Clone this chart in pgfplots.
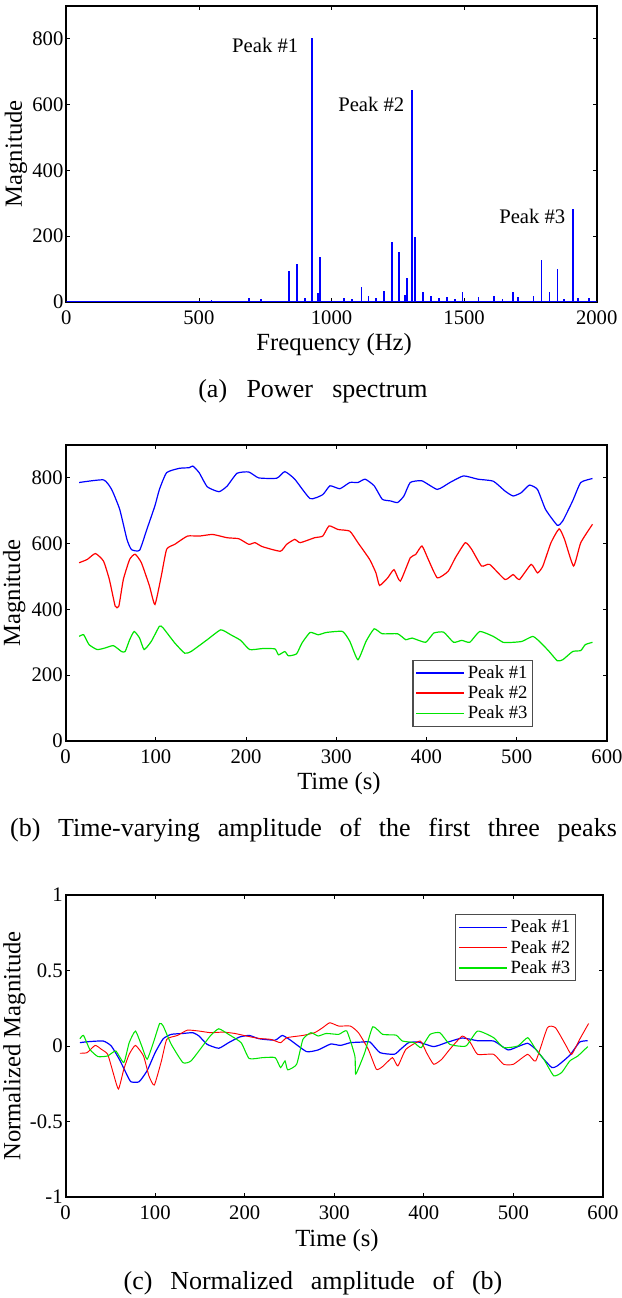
\documentclass[border=0pt]{standalone}
\usepackage{pgfplots}
\pgfplotsset{compat=1.18}
\usepackage{fontspec}
\setmainfont{Liberation Serif}
\definecolor{mblue}{rgb}{0,0,1}
\definecolor{mred}{rgb}{1,0,0}
\definecolor{mgreen}{rgb}{0,0.9,0}
\pgfplotsset{
  mstyle/.style={
    scale only axis,
    anchor=south west,
    axis line style={line width=1.4pt},
    tick align=inside,
    major tick length=3pt,
    tick style={black, line width=0.6pt},
    /pgf/number format/assume math mode=true,
    /pgf/number format/1000 sep={},
    tick label style={font=\fontsize{15.5}{16}\selectfont},
    yticklabel style={inner sep=2pt},
    xticklabel style={inner sep=3pt, yshift=-3.5pt},
    every axis y label/.style={at={(axis description cs:-0.095,0.5)}, rotate=90, anchor=center, font=\fontsize{18.5}{20}\selectfont},
    every axis x label/.style={at={(axis description cs:0.505,-0.145)}, anchor=center, font=\fontsize{18.5}{20}\selectfont},
    legend style={font=\fontsize{14}{15}\selectfont, draw=black!70, line width=0.8pt, inner sep=2pt},
    legend cell align=left,
  }
}
\begin{document}
\begin{tikzpicture}
\path[use as bounding box] (0pt,0pt) rectangle (465.75pt,973.5pt);

% ---------------- (a) ----------------
\begin{axis}[mstyle, at={(49.725pt,747.225pt)}, width=397.8pt, height=221.8pt,
  xmin=0, xmax=2000, ymin=0, ymax=900,
  xtick={0,500,1000,1500,2000}, ytick={0,200,400,600,800},
  xlabel={Frequency (Hz)}, ylabel={Magnitude}]
\addplot[draw=mblue, line width=1pt] coordinates {(0,0) (2000,0)};
\addplot[draw=mblue, ycomb, line width=1.3pt] coordinates {
(548,5) (690,12) (734,8) (839,94) (869,114) (899,12) (926,804) (950,25) (957,136)
(1047,10) (1077,8) (1113,46) (1139,17) (1167,12) (1197,32) (1227,182) (1254,150)
(1276,19) (1285,72) (1303,645) (1315,198) (1345,30) (1375,17) (1405,12) (1435,13)
(1465,8) (1494,30) (1554,15) (1613,17) (1645,8) (1684,30) (1703,15) (1762,18)
(1792,127) (1822,30) (1852,99) (1877,8) (1910,282) (1930,10) (1970,12)};
\node[font=\fontsize{15.5}{16}\selectfont] at (axis cs:750,779) {Peak \#1};
\node[font=\fontsize{15.5}{16}\selectfont] at (axis cs:1150,601) {Peak \#2};
\node[font=\fontsize{15.5}{16}\selectfont] at (axis cs:1757,259) {Peak \#3};
\end{axis}

% ---------------- (b) ----------------
\begin{axis}[mstyle, at={(49.2pt,417.75pt)}, width=406pt, height=222pt,
  xmin=0, xmax=600, ymin=0, ymax=900,
  xtick={0,100,...,600}, ytick={0,200,400,600,800},
  xlabel={Time (s)}, ylabel={Magnitude},
  legend image code/.code={\draw[#1, line width=1.1pt] (0pt,0pt) -- (36pt,0pt);},
  legend style={at={(0.864,0.048)}, anchor=south east}]
\addplot[draw=mblue, line width=0.9pt, smooth, tension=0.3] coordinates {
(15,786) (42,794) (51,765) (60,704) (68,613) (73,582) (82,580) (90,643) (99,715)
(104,765) (112,816) (126,829) (137,831) (141,836) (148,816) (157,773) (170,758)
(179,775) (190,814) (203,818) (214,800) (234,799) (243,819) (254,796) (271,737)
(285,749) (293,776) (304,767) (315,786) (324,786) (332,796) (342,776) (351,735)
(360,730) (368,725) (375,745) (382,786) (395,791) (412,765) (426,786) (441,806)
(457,796) (474,790) (487,760) (496,745) (505,755) (514,778) (523,765) (532,704)
(545,656) (551,669) (562,730) (571,786) (584,798)};
\addlegendentry{Peak \#1}
\addplot[draw=mred, line width=0.9pt, smooth, tension=0.3] coordinates {
(15,542) (24,552) (33,570) (42,547) (48.5,491) (55,410) (59,410) (64,491) (71,552)
(77,568) (84,542) (93,471) (99,415) (106,501) (112,583) (121,598) (135,623)
(148,623) (163,628) (179,618) (192,615) (203,598) (210,603) (218,591) (238,577)
(245,598) (254,613) (260,603) (276,618) (285,623) (292,654) (302,643) (315,638)
(324,603) (337,552) (344,511) (348,473) (357,496) (364,521) (371,486) (382,557)
(388,567) (395,593) (402,552) (412,496) (424,516) (432,557) (443,603) (450,583)
(461,532) (470,537) (487,491) (496,506) (503,491) (516,537) (523,511) (529,532)
(538,603) (547,645) (553,613) (563,532) (571,603) (584,659)};
\addlegendentry{Peak \#2}
\addplot[draw=mgreen, line width=0.9pt, smooth, tension=0.3] coordinates {
(15,318) (20,323) (26,293) (35,278) (44,283) (53,290) (62,272) (66,272) (71,308)
(76,333) (82,313) (87,278) (95,303) (104,349) (108,344) (121,298) (132,267)
(139,272) (157,308) (172,338) (183,323) (194,306) (204,278) (218,281) (232,280)
(236,262) (243,272) (247,259) (256,265) (262,298) (271,330) (280,323) (289,330)
(307,333) (315,303) (324,247) (333,303) (342,341) (351,326) (368,326) (377,308)
(384,313) (399,300) (408,328) (419,331) (430,300) (439,306) (448,300) (459,333)
(474,318) (485,300) (496,300) (506,303) (518,318) (527,298) (536,272) (545,244)
(551,247) (562,272) (571,275) (576,293) (584,300)};
\addlegendentry{Peak \#3}
\end{axis}

% ---------------- (c) ----------------
\begin{axis}[mstyle, at={(49.2pt,75.75pt)}, width=403pt, height=226.5pt,
  xmin=0, xmax=600, ymin=-1, ymax=1,
  xtick={0,100,...,600}, ytick={-1,-0.5,0,0.5,1},
  xlabel={Time (s)}, ylabel={Normalized Magnitude},
  legend image code/.code={\draw[#1, line width=1.1pt] (0pt,0pt) -- (36pt,0pt);},
  legend style={at={(0.95,0.937)}, anchor=north east}]
\addplot[draw=mblue, line width=0.9pt, smooth, tension=0.3] coordinates {
(16,0.022) (24,0.028) (42,0.033) (51,0) (60,-0.088) (69,-0.197) (73,-0.237)
(82,-0.237) (91,-0.164) (100,-0.044) (109,0.048) (118,0.077) (131,0.083)
(142,0.088) (149,0.066) (158,0.011) (171,-0.015) (182,0.022) (194,0.059)
(205,0.07) (216,0.048) (234,0.039) (242,0.07) (251,0.039) (269,-0.037)
(282,-0.026) (296,0.013) (307,0.004) (318,0.022) (331,0.026) (340,0.026)
(351,-0.044) (367,-0.055) (374,-0.022) (383,0.022) (394,0.026) (411,-0.004)
(425,0.022) (443,0.053) (460,0.035) (478,0.033) (494,-0.026) (505,-0.004)
(516,0.018) (525,-0.022) (534,-0.088) (543,-0.143) (549,-0.132) (563,-0.061)
(574,0.026) (583,0.035)};
\addlegendentry{Peak \#1}
\addplot[draw=mred, line width=0.7pt, smooth, tension=0.3] coordinates {
(16,-0.048) (24,-0.044) (33,0.004) (40,-0.022) (47,-0.055) (53,-0.175) (59,-0.285)
(65,-0.154) (71,-0.055) (78,0.004) (87,-0.066) (93,-0.197) (99,-0.259) (107,-0.099)
(113,0.044) (125,0.07) (136,0.105) (149,0.099) (162,0.088) (176,0.092) (189,0.083)
(202,0.066) (216,0.05) (229,0.044) (240,0.022) (247,0.055) (265,0.07) (278,0.088)
(287,0.121) (295,0.154) (305,0.132) (318,0.132) (327,0.088) (338,-0.022)
(347,-0.154) (354,-0.136) (365,-0.077) (371,-0.132) (380,-0.022) (396,0.033)
(403,-0.044) (411,-0.121) (420,-0.088) (429,-0.022) (443,0.066) (452,0.022)
(460,-0.055) (478,-0.055) (489,-0.121) (500,-0.121) (516,-0.055) (525,-0.099)
(538,0.121) (547,0.121) (558,0.011) (565,-0.055) (574,0.044) (584,0.149)};
\addlegendentry{Peak \#2}
\addplot[draw=mgreen, line width=0.8pt, smooth, tension=0.3] coordinates {
(16,0.048) (20,0.07) (27,-0.022) (36,-0.07) (47,-0.066) (56,-0.033) (65,-0.11)
(71,0.022) (78,0.099) (85,0) (91,-0.088) (98,0.022) (105,0.149) (109,0.132)
(118,0.011) (131,-0.11) (140,-0.099) (153,0) (162,0.07) (171,0.114) (182,0.077)
(196,0.022) (205,-0.083) (220,-0.077) (234,-0.077) (240,-0.143) (245,-0.099)
(248,-0.158) (258,-0.121) (265,0.044) (274,0.088) (282,0.066) (291,0.083)
(305,0.077) (314,0.099) (323,-0.066) (324,-0.186) (334,-0.044) (343,0.127)
(354,0.077) (369,0.072) (376,0.033) (389,0.022) (397,-0.011) (407,0.077)
(418,0.088) (429,0.011) (447,0) (460,0.099) (478,0.055) (489,-0.011) (505,0)
(516,0.055) (525,-0.022) (534,-0.088) (545,-0.197) (554,-0.175) (563,-0.099)
(572,-0.066) (583,-0.004)};
\addlegendentry{Peak \#3}
\end{axis}

% captions
\node[font=\fontsize{19.5}{21}\selectfont] at (234.75pt,680.25pt) {\makebox[172pt][s]{(a) Power spectrum}};
\node[font=\fontsize{19.5}{21}\selectfont] at (235.1pt,351pt) {\makebox[455pt][s]{(b) Time-varying amplitude of the first three peaks}};
\node[font=\fontsize{19.5}{21}\selectfont] at (234.75pt,11.25pt) {\makebox[284pt][s]{(c) Normalized amplitude of (b)}};
\end{tikzpicture}
\end{document}
